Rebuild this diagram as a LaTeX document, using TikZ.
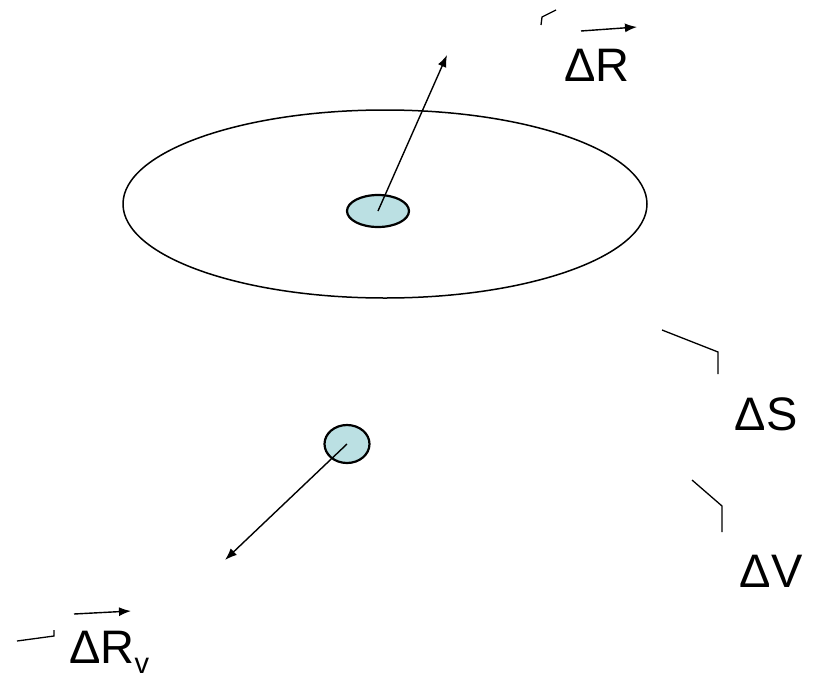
\documentclass[tikz,border=0pt]{standalone}
\usepackage{fontspec}
\setmainfont{Liberation Sans}
\usetikzlibrary{arrows.meta,shapes.geometric}
\definecolor{Ink}{RGB}{0,0,0}
\definecolor{SoftCyan}{RGB}{187,224,227}
\tikzset{
  >=Latex,
  orbit/.style={ellipse,draw=Ink,line width=.75pt,inner sep=0pt},
  body/.style={ellipse,draw=Ink,line width=1.1pt,fill=SoftCyan,inner sep=0pt},
  tag/.style={font=\fontsize{23.5}{28}\selectfont,text=Ink,inner sep=0pt},
  vec/.style={-{Latex[length=6pt,width=4.5pt]},line width=.7pt,draw=Ink},
  hook/.style={line width=.65pt,draw=Ink}
}
\begin{document}
\begin{tikzpicture}[x=.5pt,y=-.5pt]
  \useasboundingbox (0,0) rectangle (813,680);
  % orbit and bodies
  \node[orbit,minimum width=262pt,minimum height=94pt] (orbit) at (385,204) {};
  \node[body,minimum width=31pt,minimum height=16pt] (star) at (378,211) {};
  \node[body,minimum width=22.5pt,minimum height=19pt] (probe) at (347,444) {};
  \coordinate (rtip) at (447,55);
  \coordinate (vtip) at (225,560);
  \draw[vec] (star.center)--(rtip);
  \draw[vec] (probe.center)--(vtip);
  % labels
  \node[tag] (dR) at (597,65) {ΔR};
  \node[tag] (dS) at (766,414) {ΔS};
  \node[tag] (dV) at (771,571) {ΔV};
  \node[tag,anchor=base west] (dRv) at (69,663) {ΔR\raisebox{-5pt}{\fontsize{14.5}{17}\selectfont v}};
  \coordinate (dRa) at (581,31);
  \coordinate (dRb) at (637,27);
  \coordinate (dRva) at (74,614);
  \coordinate (dRvb) at (131,611);
  \draw[vec] (dRa)--(dRb);
  \draw[vec] (dRva)--(dRvb);
  % stray marks
  \draw[hook] (541,25)--(542,17)--(556,10);
  \draw[hook] (662,330)--(718,352)--(718,374);
  \draw[hook] (692,480)--(722,506)--(722,532);
  \draw[hook] (17,641)--(54,636)--(54,630);
\end{tikzpicture}
\end{document}
